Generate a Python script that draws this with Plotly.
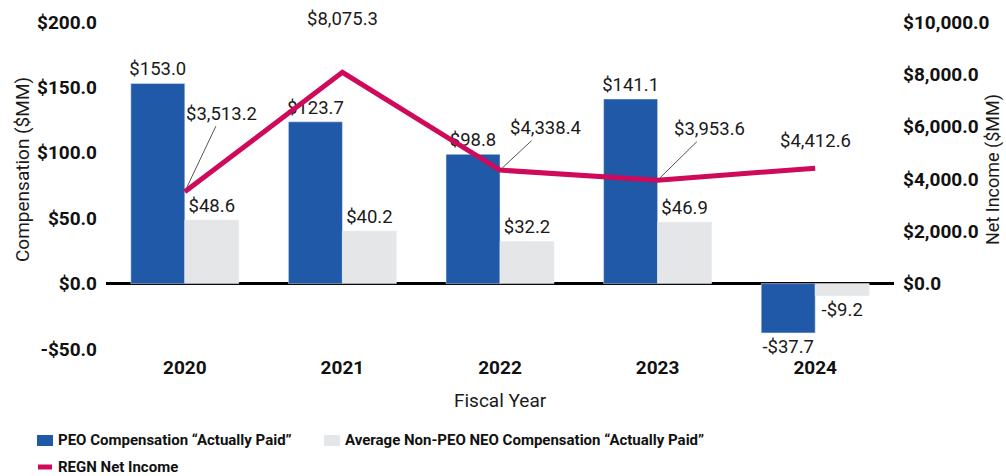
import plotly.graph_objects as go

# ---- data ($MM) ----
years = ["2020", "2021", "2022", "2023", "2024"]
peo_cap = [153.0, 123.7, 98.8, 141.1, -37.7]
neo_cap = [48.6, 40.2, 32.2, 46.9, -9.2]
net_income = [3513.2, 8075.3, 4338.4, 3953.6, 4412.6]
comp_ticks = [-50, 0, 50, 100, 150, 200]
income_ticks = [0, 2000, 4000, 6000, 8000, 10000]

series_names = [
    "PEO Compensation \u201cActually Paid\u201d",
    "Average Non-PEO NEO Compensation \u201cActually Paid\u201d",
    "REGN Net Income",
]

BLUE = "#1f59a7"
GREY = "#e5e6e7"
RED = "#cf0a5b"
TXT = "#1a1a1a"
FONT = "Roboto"


def money(v):
    return f"-${abs(v):,.1f}" if v < 0 else f"${v:,.1f}"


# plot-area geometry in pixels, used to place the hand-built legend/titles
L, T, W, H = 106, 22, 788, 327
FIG_W, FIG_H = 1006, 476


def px(x):
    return (x - L) / W


def py(y):
    return (T + H - y) / H


label_font = dict(family=FONT, size=18.5, color=TXT)

fig = go.Figure()

fig.add_trace(go.Bar(
    x=years, y=peo_cap, name=series_names[0], marker_color=BLUE,
    text=[money(v) for v in peo_cap], textposition="outside",
    textfont=label_font, constraintext="none", cliponaxis=False,
))
fig.add_trace(go.Bar(
    x=years, y=neo_cap, name=series_names[1], marker_color=GREY,
    text=[money(v) for v in neo_cap], textposition="outside",
    textfont=label_font, constraintext="none", cliponaxis=False,
))
fig.add_trace(go.Scatter(
    x=years, y=net_income, name=series_names[2], yaxis="y2",
    mode="lines", line=dict(color=RED, width=5),
    cliponaxis=False,
))

# net income value labels (pixel offsets of label from the point; None = directly above)
label_offsets = [(37, -78), None, (45, -42), (52, -51), None]
annotations = []
for i, (v, off) in enumerate(zip(net_income, label_offsets)):
    if off is None:
        annotations.append(dict(
            x=i, y=v, xref="x", yref="y2", text=money(v), showarrow=False,
            yanchor="bottom", yshift=14 if i == 4 else 40, font=label_font,
        ))
    else:
        annotations.append(dict(
            x=i, y=v, xref="x", yref="y2", text=money(v), showarrow=True,
            arrowhead=0, arrowwidth=1, arrowcolor="#555555", ax=off[0], ay=off[1],
            standoff=3, font=label_font,
        ))

# axis titles
title_font = dict(family=FONT, size=19, color=TXT)
annotations += [
    dict(x=px(22), y=py(170), xref="paper", yref="paper", text="Compensation ($MM)",
         textangle=-90, showarrow=False, xanchor="center", yanchor="middle",
         font=title_font),
    dict(x=px(993), y=py(170), xref="paper", yref="paper", text="Net Income ($MM)",
         textangle=-90, showarrow=False, xanchor="center", yanchor="middle",
         font=dict(family=FONT, size=18, color=TXT)),
    dict(x=px(500), y=py(400), xref="paper", yref="paper", text="Fiscal Year",
         showarrow=False, xanchor="center", yanchor="middle", font=title_font),
]

# legend
leg_font = dict(family=FONT, size=15, color="#111111")
shapes = [
    dict(type="rect", xref="paper", yref="paper", x0=px(37), x1=px(53),
         y0=py(446), y1=py(435), fillcolor=BLUE, line=dict(width=0)),
    dict(type="rect", xref="paper", yref="paper", x0=px(324), x1=px(340),
         y0=py(446), y1=py(435), fillcolor=GREY, line=dict(width=0)),
    dict(type="line", xref="paper", yref="paper", x0=px(38), x1=px(52),
         y0=py(467), y1=py(467), line=dict(color=RED, width=5)),
]
for x0, y0, name in [(56, 440, series_names[0]), (343, 440, series_names[1]),
                     (56, 467, series_names[2])]:
    annotations.append(dict(x=px(x0), y=py(y0), xref="paper", yref="paper",
                            text=f"<b>{name}</b>", xanchor="left", yanchor="middle",
                            showarrow=False, font=leg_font))

tick_font = dict(family=FONT, size=19, color="#111111", weight="bold")

fig.update_layout(
    width=FIG_W, height=FIG_H, autosize=False,
    margin=dict(l=L, r=FIG_W - L - W, t=T, b=FIG_H - T - H, pad=0),
    paper_bgcolor="white", plot_bgcolor="white",
    barmode="group", bargap=0.315, bargroupgap=0,
    showlegend=False,
    xaxis=dict(type="category", range=[-0.5, len(years) - 0.5], showgrid=False,
               showline=False, ticks="", tickfont=tick_font, ticklabelstandoff=5),
    yaxis=dict(range=[-50, 200], tickvals=comp_ticks,
               ticktext=[money(v) for v in comp_ticks], showgrid=False,
               zeroline=True, zerolinecolor="#000000", zerolinewidth=2.5,
               showline=False, ticks="", tickfont=tick_font, ticklabelstandoff=8),
    yaxis2=dict(range=[-2500, 10000], tickvals=income_ticks,
                ticktext=[money(v) for v in income_ticks], overlaying="y",
                side="right", showgrid=False, zeroline=False, showline=False,
                ticks="", tickfont=tick_font, ticklabelstandoff=8),
    annotations=annotations,
    shapes=shapes,
)

fig.write_html("out.html")
